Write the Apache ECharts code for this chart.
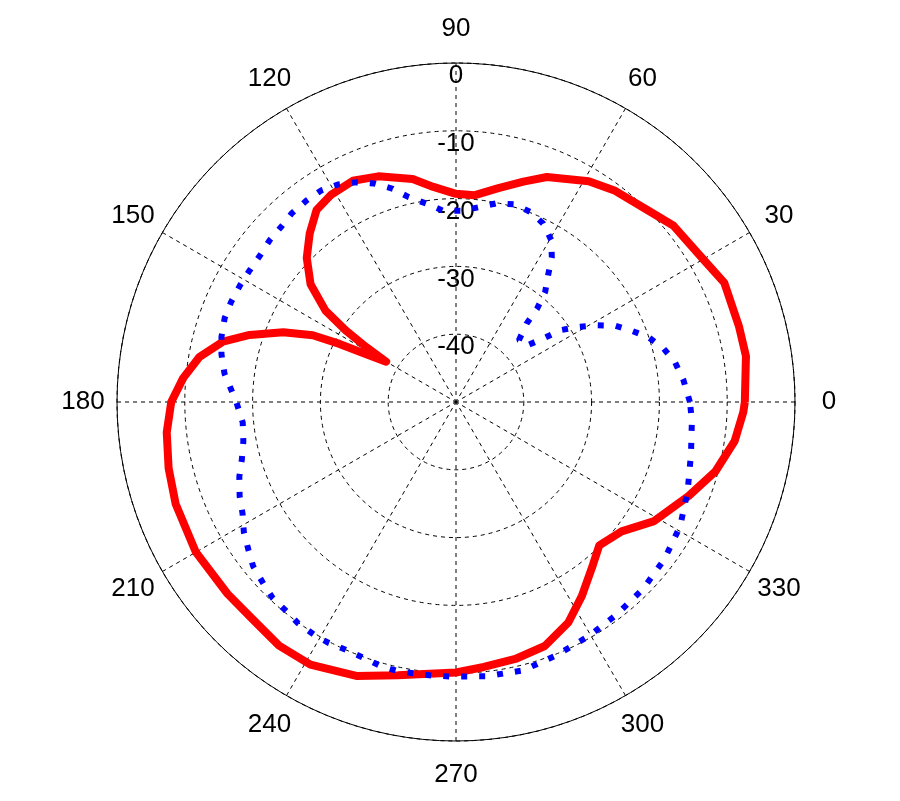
<!DOCTYPE html>
<html>
<head>
<meta charset="utf-8">
<title>Polar pattern</title>
<script src="https://cdn.jsdelivr.net/npm/echarts@6/dist/echarts.min.js"></script>
<style>
  html, body { margin: 0; padding: 0; background: #fff; }
  #chart { width: 900px; height: 801px; }
</style>
</head>
<body>
<div id="chart"></div>
<script>
// angles in degrees, levels in dB
var redAngles = [0, 9, 15, 24, 30, 39, 45, 53, 59, 68, 73, 79, 85, 90, 96, 101, 109, 115, 121, 126,
    131, 136, 141, 145, 147, 148.5, 150, 152, 153.5, 155, 158, 162, 165.5, 170, 175, 180, 186, 193,
    200, 210, 220, 227, 234, 241, 250, 258, 270, 276, 283, 290, 297, 303, 310, 315, 322, 329, 338,
    345, 352, 358, 360];
var redLevels = [-7.4, -6.7, -6.8, -6.7, -7.9, -8.7, -10, -11, -12, -14.2, -16, -17.9, -19.4, -19.3,
    -18.1, -16.5, -14.8, -14, -14.3, -15, -17.1, -19.4, -22.4, -26.5, -30.6, -34.4, -38.1, -34.9,
    -30.8, -26.7, -22.5, -18, -14.5, -11.6, -9.6, -8, -7.1, -6.5, -6, -5.7, -6, -6.1, -5.6, -5.7,
    -7, -8.8, -10.1, -10.7, -11.1, -11.7, -13.5, -15.9, -18.6, -20.1, -19, -15.9, -13, -10.4, -8.5,
    -7.6, -7.4];

var blueAngles = [0, 5.5, 10.5, 14.5, 18.5, 22, 25.5, 28.5, 31.5, 34.5, 36, 38.5, 44.5, 48, 49, 51,
    54, 56.5, 59.5, 64, 68.5, 73.5, 78.5, 83.5, 88.5, 94, 98.5, 103, 106.5, 110.5, 114.5, 118.5,
    122.5, 126.5, 131, 135, 139, 143, 147.5, 151.5, 156, 160, 164.5, 168.5, 173, 180, 185.5, 190.5,
    195, 199, 203.5, 207.5, 211.5, 215.5, 219, 223, 227, 230.5, 234.5, 238.5, 242, 246, 250, 254,
    257.5, 261, 265, 269, 276.5, 284, 291.5, 299.5, 307, 315, 323, 331, 339, 347.5, 355.5, 360];
var blueLevels = [-15.5, -16.3, -17.2, -18.4, -20, -22, -23.9, -26.3, -28.8, -31.3, -34, -36.6, -37,
    -34.4, -31.8, -29.1, -26.9, -24.4, -22.3, -20.7, -19.9, -19.6, -20.1, -21.1, -21.8, -21.7, -20.4,
    -19, -17.2, -15.6, -14.4, -13.5, -13, -13, -13.1, -13.5, -13.6, -13.9, -13.9, -13.8, -13.7,
    -13.7, -14.1, -14.7, -15.6, -17.6, -18.4, -18.1, -17.3, -16.2, -15.2, -14.5, -13.3, -12.4,
    -11.5, -11, -10.4, -10.3, -9.9, -9.8, -9.8, -10, -9.9, -9.5, -9.4, -9.5, -9.5, -9.5, -9.3,
    -9.2, -9.8, -10.3, -10.7, -11, -11.5, -12.2, -13.4, -14.5, -15.1, -15.5];

// tick labels round the rim
var angleTicks = [0, 30, 60, 90, 120, 150, 180, 210, 240, 270, 300, 330];

var levelMin = -50, levelMax = 0, levelStep = 10;
var angleStep = 30;

var font = '"Liberation Sans", Arial, sans-serif';
var gridDash = { color: '#000', width: 1, type: [4, 4] };
var center = [456, 402];

function pairs (angles, levels) {
    return angles.map(function (a, i) { return [levels[i], a]; });
}

var chart = echarts.init(document.getElementById('chart'));
var option = {
    animation: false,
    backgroundColor: '#fff',
    polar: [
        { center: center, radius: 339 },
        { center: center, radius: 339 },
        { center: center, radius: 373 }   // ring for the angle labels
    ],
    angleAxis: [
        {
            polarIndex: 0,
            type: 'value',
            min: 0,
            max: 360,
            interval: angleStep,
            startAngle: 0,
            clockwise: false,
            axisLine: { show: true, lineStyle: { color: '#000', width: 1 } },
            axisTick: { show: false },
            axisLabel: { show: false },
            splitLine: { show: true, lineStyle: gridDash }
        },
        // second polar only carries the level labels up the 90 degree spoke
        { polarIndex: 1, type: 'value', min: 0, max: 360, startAngle: 90, show: false },
        { polarIndex: 2, type: 'value', min: 0, max: 360, startAngle: 0, clockwise: false, show: false }
    ],
    radiusAxis: [
        {
            polarIndex: 0,
            type: 'value',
            min: levelMin,
            max: levelMax,
            interval: levelStep,
            axisLine: { show: false },
            axisTick: { show: false },
            axisLabel: { show: false },
            splitLine: { show: true, lineStyle: gridDash }
        },
        {
            polarIndex: 1,
            type: 'value',
            min: levelMin,
            max: levelMax,
            interval: levelStep,
            axisLine: { show: false },
            axisTick: { show: false },
            splitLine: { show: false },
            axisLabel: {
                show: true,
                color: '#000',
                fontSize: 26,
                fontFamily: font,
                margin: 0,
                align: 'center',
                verticalAlign: 'top',
                formatter: function (v) { return v === levelMin ? '' : String(v); }
            }
        },
        { polarIndex: 2, type: 'value', min: 0, max: 1, show: false }
    ],
    series: [
        {
            type: 'line',
            coordinateSystem: 'polar',
            polarIndex: 0,
            data: pairs(redAngles, redLevels),
            symbol: 'none',
            smooth: false,
            lineStyle: { color: '#ff0000', width: 8, join: 'round' }
        },
        {
            type: 'line',
            coordinateSystem: 'polar',
            polarIndex: 0,
            data: pairs(blueAngles, blueLevels),
            symbol: 'none',
            smooth: false,
            lineStyle: { color: '#0000ff', width: 6, type: [6, 12], cap: 'butt' }
        },
        {
            type: 'scatter',
            coordinateSystem: 'polar',
            polarIndex: 2,
            silent: true,
            data: angleTicks.map(function (a) { return [1, a]; }),
            symbolSize: 1,
            itemStyle: { color: 'rgba(0,0,0,0)', opacity: 1 },
            label: {
                show: true,
                position: 'inside',
                color: '#000',
                opacity: 1,
                textBorderWidth: 0,
                fontSize: 26,
                fontFamily: font,
                formatter: function (p) { return String(p.value[1]); }
            }
        }
    ]
};
chart.setOption(option);
window.addEventListener('resize', function () { chart.resize(); });
</script>
</body>
</html>
